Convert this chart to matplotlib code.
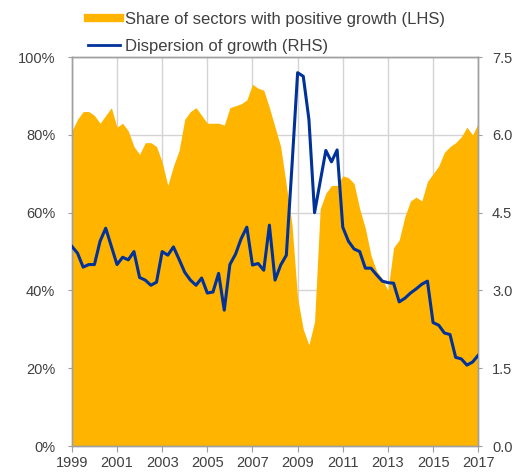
import numpy as np
import matplotlib
matplotlib.use('Agg')
import matplotlib.pyplot as plt
from matplotlib.lines import Line2D

plt.rcParams['font.family'] = ['Liberation Sans', 'DejaVu Sans']

# quarterly observations, 1999Q1 .. 2017Q1
start_year = 1999
n_obs = 73
quarters = start_year + np.arange(n_obs) / 4.0

# share of sectors with positive growth (LHS, %)
share_pos = [81, 84, 86, 86, 85, 83, 85, 87, 82, 83, 81, 77, 75, 78, 78, 77,
             73, 67, 72, 76, 84, 86, 87, 85, 83, 83, 83, 82.5, 87, 87.5, 88, 89,
             93, 92, 91.5, 87, 82, 77, 67, 57, 38, 30, 26, 32, 61, 65, 67, 67,
             69.5, 69, 67.5, 61, 56, 49, 45, 43, 40, 51, 53, 59, 63, 64, 63, 68,
             70, 72, 75.5, 77, 78, 79.5, 82, 80, 83]

# dispersion of growth (RHS)
dispersion = [3.85, 3.72, 3.45, 3.5, 3.5, 3.95, 4.2, 3.85, 3.5, 3.64, 3.59, 3.75,
              3.25, 3.2, 3.1, 3.16, 3.75, 3.68, 3.84, 3.6, 3.35, 3.2, 3.1, 3.24,
              2.95, 2.97, 3.33, 2.62, 3.5, 3.7, 4.0, 4.22, 3.49, 3.52, 3.39, 4.26,
              3.2, 3.49, 3.68, 5.4, 7.2, 7.13, 6.3, 4.5, 5.1, 5.7, 5.48, 5.71,
              4.22, 3.95, 3.8, 3.75, 3.43, 3.43, 3.3, 3.18, 3.15, 3.14, 2.78, 2.85,
              2.95, 3.03, 3.12, 3.18, 2.38, 2.33, 2.18, 2.15, 1.71, 1.68, 1.56, 1.62, 1.75]

year_ticks = list(range(1999, 2018, 2))
lhs_ticks = [0, 20, 40, 60, 80, 100]
rhs_ticks = [0.0, 1.5, 3.0, 4.5, 6.0, 7.5]

label_share = 'Share of sectors with positive growth (LHS)'
label_disp = 'Dispersion of growth (RHS)'

orange = '#FFB400'
blue = '#003299'
grey = '#a0a0a0'

fig = plt.figure(figsize=(5.17, 4.76), dpi=100)
ax = fig.add_axes([0.139, 0.063, 0.786, 0.817])

ax.fill_between(quarters, 0, share_pos, color=orange, lw=0, zorder=2)
ax.set_xlim(1999, 2017)
ax.set_ylim(0, 100)
ax.set_xticks(year_ticks)
ax.set_yticks(lhs_ticks)
ax.set_yticklabels([f'{t}%' for t in lhs_ticks])
ax.grid(True, color='#d4d4d4', lw=1, zorder=0)
ax.set_axisbelow(True)
ax.tick_params(axis='both', colors=grey, labelcolor='#404040', labelsize=10.5, length=3)
ax.tick_params(axis='y', pad=9)
ax.tick_params(axis='x', length=4, pad=3)

ax2 = ax.twinx()
ax2.plot(quarters, dispersion, color=blue, lw=2.2, zorder=3)
ax2.set_ylim(0, 7.5)
ax2.set_yticks(rhs_ticks)
ax2.set_yticklabels([f'{t:.1f}' for t in rhs_ticks])
ax2.tick_params(axis='y', colors=grey, labelcolor='#404040', labelsize=10.5, length=3, pad=7)

for a in (ax, ax2):
    for s in a.spines.values():
        s.set_color(grey)
        s.set_linewidth(1)

handles = [Line2D([], [], color=orange, lw=6), Line2D([], [], color=blue, lw=2)]
fig.legend(handles, [label_share, label_disp], loc='upper left',
           bbox_to_anchor=(0.148, 1.0), frameon=False, fontsize=12,
           handlelength=1.9, handletextpad=0.3, labelspacing=0.72,
           labelcolor='#404040', borderaxespad=0.3)

fig.savefig('out.png', dpi=100)
